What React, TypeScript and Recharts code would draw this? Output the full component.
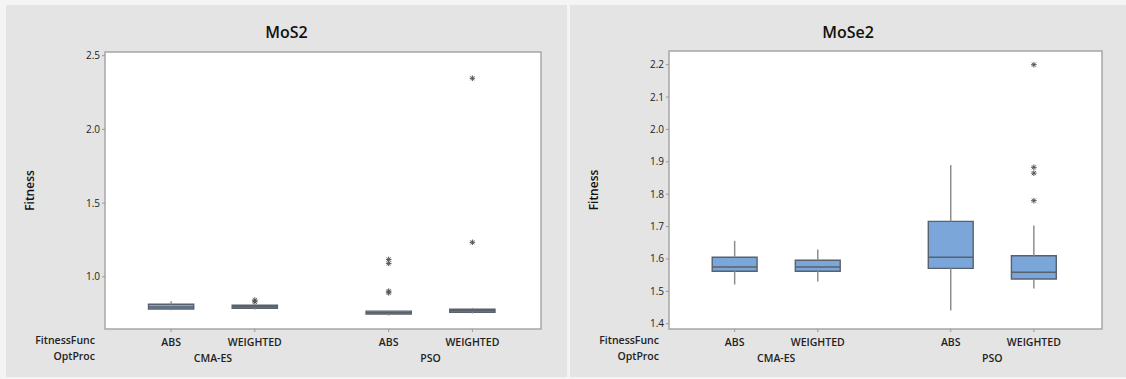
import { ComposedChart, XAxis, YAxis, Scatter, ReferenceArea, ReferenceLine } from "recharts";

const fitnessFunc = ["ABS", "WEIGHTED", "ABS", "WEIGHTED"];
const optProc = ["CMA-ES", "CMA-ES", "PSO", "PSO"];
const groups = ["CMA-ES", "PSO"];

// MoS2 box statistics
const mos2Min = [0.773, 0.778, 0.737, 0.751];
const mos2Q1 = [0.782, 0.787, 0.748, 0.76];
const mos2Median = [0.796, 0.797, 0.756, 0.77];
const mos2Q3 = [0.814, 0.807, 0.767, 0.78];
const mos2Max = [0.835, 0.81, 0.769, 0.789];
const mos2Outliers = [[], [0.842, 0.83], [1.118, 1.091, 0.903, 0.891], [2.347, 1.234]];
const mos2Ticks = [1.0, 1.5, 2.0, 2.5];

// MoSe2 box statistics
const mose2Min = [1.521, 1.53, 1.441, 1.509];
const mose2Q1 = [1.562, 1.562, 1.571, 1.538];
const mose2Median = [1.575, 1.575, 1.605, 1.559];
const mose2Q3 = [1.605, 1.596, 1.716, 1.61];
const mose2Max = [1.656, 1.629, 1.89, 1.703];
const mose2Outliers = [[], [], [], [2.2, 1.883, 1.865, 1.78]];
const mose2Ticks = [1.4, 1.5, 1.6, 1.7, 1.8, 1.9, 2.0, 2.1, 2.2];

const GROUP_GAP = 0.6;
const BOX_HALF = 0.27;
const X_DOMAIN: [number, number] = [-0.79, 4.42];

const xPos = (i: number) => i + GROUP_GAP * groups.indexOf(optProc[i]);
const catTicks = fitnessFunc.map((_, i) => xPos(i));
const groupTicks = groups.map((g) => {
  const idx = optProc.map((p, i) => (p === g ? xPos(i) : null)).filter((v) => v !== null) as number[];
  return (Math.min(...idx) + Math.max(...idx)) / 2;
});

const BOX_FILL = "#7ba6d9";
const BOX_STROKE = "#58616c";
const WHISKER = "#8e8e8e";
const PANEL_BG = "#e4e4e4";
const LABEL_STYLE = { fontSize: 10.5, fontWeight: 600, fill: "#222" };

function Star(props: any) {
  const { cx, cy } = props;
  const r = 2.8;
  const d = r * 0.72;
  return (
    <g stroke="#555" strokeWidth={1}>
      <line x1={cx - r} y1={cy} x2={cx + r} y2={cy} />
      <line x1={cx} y1={cy - r} x2={cx} y2={cy + r} />
      <line x1={cx - d} y1={cy - d} x2={cx + d} y2={cy + d} />
      <line x1={cx - d} y1={cy + d} x2={cx + d} y2={cy - d} />
    </g>
  );
}

// two-row category tick: FitnessFunc on row 1, OptProc centred on row 2
function CatTick(props: any) {
  const { x, y, payload } = props;
  const ci = catTicks.indexOf(payload.value);
  if (ci >= 0) {
    return (
      <g>
        <line x1={x} y1={y - 6} x2={x} y2={y - 3} stroke="#999" />
        <text x={x} y={y + 11} textAnchor="middle" {...LABEL_STYLE}>
          {fitnessFunc[ci]}
        </text>
      </g>
    );
  }
  const gi = groupTicks.indexOf(payload.value);
  return (
    <text x={x} y={y + 27} textAnchor="middle" {...LABEL_STYLE}>
      {groups[gi] ?? ""}
    </text>
  );
}

type PanelProps = {
  title: string;
  left: number;
  width: number;
  min: number[];
  q1: number[];
  median: number[];
  q3: number[];
  max: number[];
  outliers: number[][];
  yDomain: [number, number];
  yTicks: number[];
  margin: { top: number; right: number; bottom: number; left: number };
};

function BoxPanel(p: PanelProps) {
  const height = 372;
  const points = p.outliers.flatMap((vals, i) => vals.map((v) => ({ x: xPos(i), y: v })));
  return (
    <div style={{ position: "absolute", left: p.left, top: 5, width: p.width, height, background: PANEL_BG }}>
      <div
        style={{
          position: "absolute",
          top: 16,
          left: 0,
          width: p.width,
          textAlign: "center",
          fontSize: 16,
          fontWeight: 600,
          color: "#111",
        }}
      >
        {p.title}
      </div>
      <div style={{ position: "absolute", right: p.width - 89, top: 327, fontSize: 10.5, fontWeight: 600, color: "#222", textAlign: "right", lineHeight: "16px" }}>
        <div>FitnessFunc</div>
        <div>OptProc</div>
      </div>
      <ComposedChart width={p.width} height={height} margin={p.margin}>
        <XAxis
          type="number"
          dataKey="x"
          domain={X_DOMAIN}
          ticks={[...catTicks, ...groupTicks]}
          allowDataOverflow
          axisLine={false}
          tickLine={false}
          tickSize={3}
          tickMargin={3}
          height={34}
          interval={0}
          tick={<CatTick />}
        />
        <YAxis
          type="number"
          dataKey="y"
          domain={p.yDomain}
          ticks={p.yTicks}
          allowDataOverflow
          interval={0}
          width={99 - p.margin.left}
          tickFormatter={(v: number) => v.toFixed(1)}
          axisLine={false}
          tickLine={{ stroke: "#999" }}
          tickSize={3}
          tickMargin={2}
          tick={{ fontSize: 10, fill: "#222" }}
          label={{
            value: "Fitness",
            angle: -90,
            position: "insideLeft",
            offset: 14,
            style: { textAnchor: "middle", fontSize: 12, fontWeight: 600, fill: "#111" },
          }}
        />
        <ReferenceArea
          x1={X_DOMAIN[0]}
          x2={X_DOMAIN[1]}
          y1={p.yDomain[0]}
          y2={p.yDomain[1]}
          fill="#ffffff"
          fillOpacity={1}
          stroke="#a6a6a6"
          strokeWidth={1.5}
        />
        {fitnessFunc.map((_, i) => (
          <ReferenceLine
            key={`wu-${i}`}
            segment={[
              { x: xPos(i), y: p.q3[i] },
              { x: xPos(i), y: p.max[i] },
            ]}
            stroke={WHISKER}
            strokeWidth={1.5}
          />
        ))}
        {fitnessFunc.map((_, i) => (
          <ReferenceLine
            key={`wl-${i}`}
            segment={[
              { x: xPos(i), y: p.min[i] },
              { x: xPos(i), y: p.q1[i] },
            ]}
            stroke={WHISKER}
            strokeWidth={1.5}
          />
        ))}
        {fitnessFunc.map((_, i) => (
          <ReferenceArea
            key={`box-${i}`}
            x1={xPos(i) - BOX_HALF}
            x2={xPos(i) + BOX_HALF}
            y1={p.q1[i]}
            y2={p.q3[i]}
            fill={BOX_FILL}
            fillOpacity={1}
            stroke={BOX_STROKE}
            strokeWidth={1.4}
          />
        ))}
        {fitnessFunc.map((_, i) => (
          <ReferenceLine
            key={`med-${i}`}
            segment={[
              { x: xPos(i) - BOX_HALF, y: p.median[i] },
              { x: xPos(i) + BOX_HALF, y: p.median[i] },
            ]}
            stroke={BOX_STROKE}
            strokeWidth={1.5}
          />
        ))}
        <Scatter data={points} dataKey="y" shape={<Star />} isAnimationActive={false} />
      </ComposedChart>
    </div>
  );
}

export default function App() {
  return (
    <div
      style={{
        position: "absolute",
        left: 0,
        top: 0,
        width: 1126,
        height: 379,
        background: "#f4f4f4",
        fontFamily: "'Open Sans', 'Noto Sans', sans-serif",
        overflow: "hidden",
      }}
    >
      <BoxPanel
        title="MoS2"
        left={6}
        width={561}
        min={mos2Min}
        q1={mos2Q1}
        median={mos2Median}
        q3={mos2Q3}
        max={mos2Max}
        outliers={mos2Outliers}
        yDomain={[0.646, 2.525]}
        yTicks={mos2Ticks}
        margin={{ top: 47, right: 26, bottom: 14, left: 10 }}
      />
      <BoxPanel
        title="MoSe2"
        left={570}
        width={556}
        min={mose2Min}
        q1={mose2Q1}
        median={mose2Median}
        q3={mose2Q3}
        max={mose2Max}
        outliers={mose2Outliers}
        yDomain={[1.3836, 2.2423]}
        yTicks={mose2Ticks}
        margin={{ top: 46, right: 24, bottom: 14, left: 10 }}
      />
    </div>
  );
}
